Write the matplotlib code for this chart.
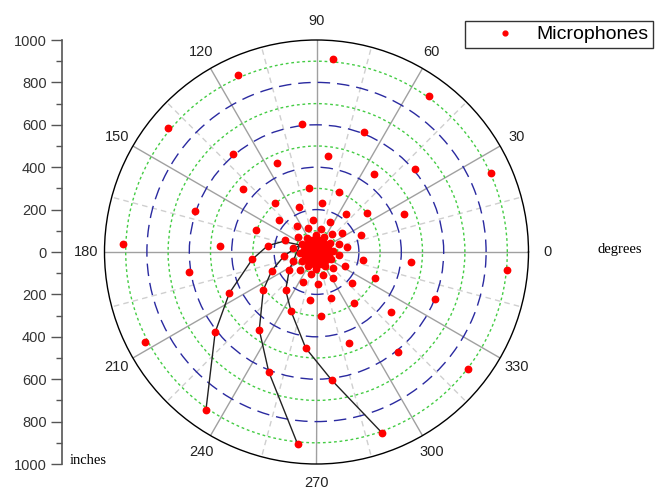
import numpy as np
import matplotlib
matplotlib.use('Agg')
import matplotlib.pyplot as plt
from matplotlib.ticker import FixedLocator, MultipleLocator

plt.rcParams['font.family'] = ['Liberation Sans', 'DejaVu Sans']

# microphone positions, read ring by ring (angle in degrees, radius in inches)
ring1_theta = [85.0, 54.2, 24.4, 354.6, 322.3, 289.9, 264.4, 235.0, 207.6, 177.6, 140.1, 114.0]
ring1_r = [912, 909, 904, 904, 905, 907, 911, 909, 913, 912, 914, 915]
ring2_theta = [96.6, 68.3, 40.0, 338.2, 309.1, 276.8, 248.3, 218.4, 189.1, 161.2, 130.5]
ring2_r = [609, 609, 607, 601, 608, 609, 609, 610, 608, 605, 608]
ring3_theta = [83.0, 53.6, 23.4, 353.8, 320.9, 289.9, 263.6, 233.7, 205.3, 176.6, 139.4, 114.0]
ring3_r = [456, 455, 451, 447, 451, 455, 456, 456, 455, 456, 455, 458]
ring4_theta = [96.7, 69.1, 37.5, 335.8, 306.4, 274.3, 246.7, 215.5, 186.5, 159.7, 130.3]
ring4_r = [304, 301, 302, 303, 301, 301, 304, 308, 305, 303, 305]
ring5_theta = [83.2, 52.5, 21.2, 350.3, 318.8, 287.1, 262.3, 231.0, 202.9, 172.6, 139.8, 111.5]
ring5_r = [231, 226, 225, 224, 224, 228, 228, 231, 230, 232, 232, 230]
ring6_theta = [95.8, 66.0, 35.9, 9.4, 334.1, 302.6, 273.2, 245.6, 213.5, 186.6, 160.0, 127.6]
ring6_r = [150, 153, 150, 144, 151, 147, 153, 154, 154, 153, 160, 153]
ring7_theta = [110.4, 80.0, 50.0, 18.7, 352.5, 315.9, 285.8, 255.4, 228.0, 200.6, 170.0, 140.0]
ring7_r = [119, 112, 112, 113, 108, 110, 113, 109, 114, 117, 112, 112]
ring8_theta = [335, 2, 33, 63, 93, 123, 153, 184, 211, 238, 269, 299]
ring8_r = [78, 78, 78, 78, 78, 78, 78, 78, 78, 78, 78, 78]
ring9_theta = [322, 349, 20, 50, 80, 110, 140, 171, 198, 225, 256, 286]
ring9_r = [58, 58, 58, 58, 58, 58, 58, 58, 58, 58, 58, 58]
ring10_theta = [305, 332, 3, 33, 63, 93, 123, 154, 181, 208, 239, 269]
ring10_r = [40, 40, 40, 40, 40, 40, 40, 40, 40, 40, 40, 40]
ring11_theta = [292, 319, 350, 20, 50, 80, 110, 141, 168, 195, 226, 256]
ring11_r = [28, 28, 28, 28, 28, 28, 28, 28, 28, 28, 28, 28]
ring12_theta = [275, 302, 333, 3, 33, 63, 93, 124, 151, 178, 209, 239]
ring12_r = [18, 18, 18, 18, 18, 18, 18, 18, 18, 18, 18, 18]
ring13_theta = [0, 60, 120, 180, 240, 300]
ring13_r = [7, 7, 7, 7, 7, 7]

# three spiral arms joined by cables
arm1_theta = [235.0, 218.4, 205.3, 186.5, 172.6, 162.6, 157.0]
arm1_r = [909, 610, 455, 305, 232, 166, 85]
arm2_theta = [264.4, 248.3, 233.7, 215.5, 202.9, 186.6, 157.0]
arm2_r = [911, 609, 456, 308, 230, 153, 85]
arm3_theta = [289.9, 276.8, 263.6, 246.7, 231.0, 213.5, 157.0]
arm3_r = [907, 609, 456, 304, 231, 154, 85]

angle_ticks = list(range(0, 360, 30))
r_major = [200, 400, 600, 800]
r_minor = [100, 300, 500, 700, 900]
side_ticks = list(range(-1000, 1001, 200))

mic_theta = (ring1_theta + ring2_theta + ring3_theta + ring4_theta + ring5_theta + ring6_theta
             + ring7_theta + ring8_theta + ring9_theta + ring10_theta + ring11_theta
             + ring12_theta + ring13_theta)
mic_r = (ring1_r + ring2_r + ring3_r + ring4_r + ring5_r + ring6_r
         + ring7_r + ring8_r + ring9_r + ring10_r + ring11_r + ring12_r + ring13_r)

W, H = 660, 491
fig = plt.figure(figsize=(W / 100, H / 100), dpi=100)

cx, cy, R = 316.5, 252, 212
ax = fig.add_axes([(cx - R) / W, (H - cy - R) / H, 2 * R / W, 2 * R / H], projection='polar')
ax.set_ylim(0, 1000)

ax.set_xticks(np.deg2rad(angle_ticks))
ax.set_xticklabels([str(a) for a in angle_ticks], fontsize=10.5, color='#222222')
ax.xaxis.set_minor_locator(FixedLocator(np.deg2rad(np.array(angle_ticks) + 15)))
ax.tick_params(axis='x', which='major', pad=3)
ax.set_yticks(r_major)
ax.yaxis.set_minor_locator(FixedLocator(r_minor))
ax.set_yticklabels([])
ax.tick_params(axis='y', which='both', length=0)

ax.grid(which='major', axis='x', color='#a0a0a0', lw=1, ls='-')
ax.grid(which='minor', axis='x', color='#cfcfcf', lw=1, ls=(0, (4, 3)))
ax.grid(which='major', axis='y', color='#2a2aa0', lw=1, ls=(0, (9, 5)))
ax.grid(which='minor', axis='y', color='#44cc44', lw=1, ls=(0, (2, 2)))
ax.spines['polar'].set_color('black')
ax.spines['polar'].set_linewidth(1)
ax.set_axisbelow(True)

for th, rr in [(arm1_theta, arm1_r), (arm2_theta, arm2_r), (arm3_theta, arm3_r)]:
    ax.plot(np.deg2rad(th), rr, color='#222222', lw=1, zorder=3)

ax.plot(np.deg2rad(mic_theta), mic_r, 'o', color='#ff0000', ms=4.6, mec='#ff0000',
        zorder=4, label='Microphones')

leg = fig.legend(loc='upper left', bbox_to_anchor=(465 / W, 1 - 21 / H), frameon=True,
                 fancybox=False, edgecolor='black', fontsize=14, markerscale=0.75,
                 handlelength=3.6, handletextpad=-0.2, borderpad=0.25, borderaxespad=0)
leg.get_frame().set_linewidth(1)

# side scale in inches
sax = fig.add_axes([62 / W, (H - cy - R) / H, 0.001, 2 * R / H])
sax.set_ylim(-1000, 1000)
sax.set_yticks(side_ticks)
sax.set_yticklabels([str(abs(v)) for v in side_ticks], fontsize=10.5, color='#333333')
sax.yaxis.set_minor_locator(MultipleLocator(100))
sax.tick_params(axis='y', which='major', length=8, width=1, color='#555555', pad=3)
sax.tick_params(axis='y', which='minor', length=4, width=1, color='#555555')
sax.set_xticks([])
for s in ['top', 'right', 'bottom']:
    sax.spines[s].set_visible(False)
sax.spines['left'].set_color('#555555')
sax.spines['left'].set_linewidth(1.2)
sax.patch.set_visible(False)

fig.text(70 / W, 1 - 461 / H, 'inches', family='Liberation Serif', fontsize=10.5,
         ha='left', va='center')
fig.text(620 / W, 1 - 250 / H, 'degrees', family='Liberation Serif', fontsize=10.5,
         ha='center', va='center')

fig.savefig('out.png', dpi=100)
